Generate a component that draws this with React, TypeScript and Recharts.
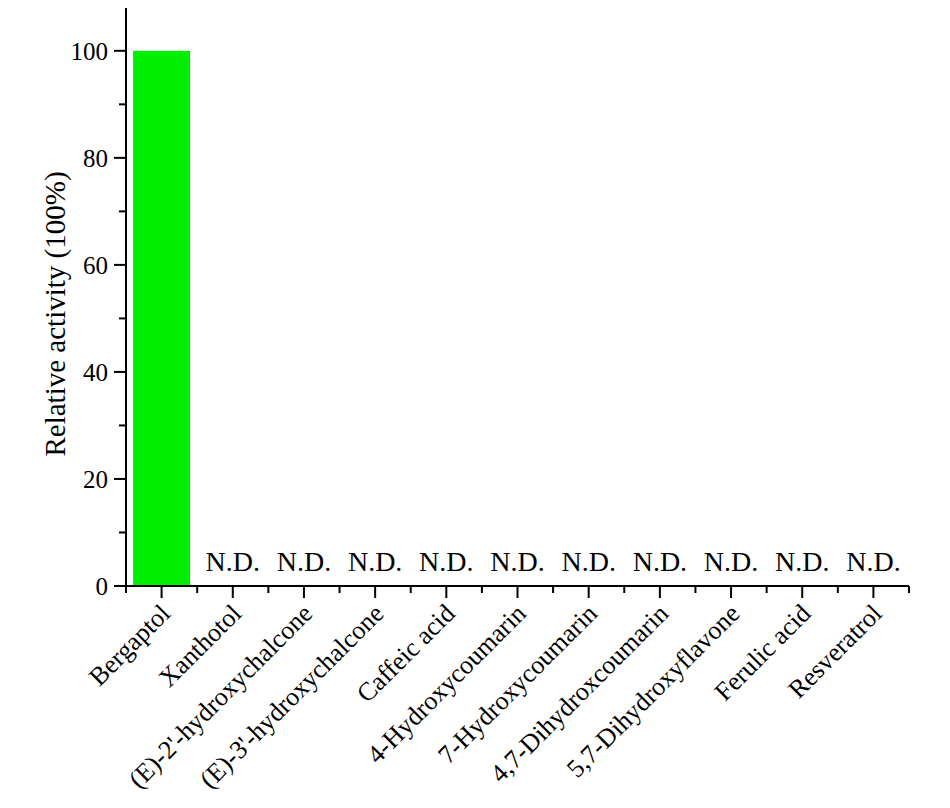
import { BarChart, Bar, XAxis, YAxis } from "recharts";

// Relative activity of each substrate; only Bergaptol is detected, the rest are N.D.

const compounds = [
  "Bergaptol",
  "Xanthotol",
  "(E)-2'-hydroxychalcone",
  "(E)-3'-hydroxychalcone",
  "Caffeic acid",
  "4-Hydroxycoumarin",
  "7-Hydroxycoumarin",
  "4,7-Dihydroxcoumarin",
  "5,7-Dihydroxyflavone",
  "Ferulic acid",
  "Resveratrol",
];

const activity = [100, 0, 0, 0, 0, 0, 0, 0, 0, 0, 0];

const yTicks = [0, 10, 20, 30, 40, 50, 60, 70, 80, 90, 100];
const yLabelTicks = [0, 20, 40, 60, 80, 100];

const data = compounds.map((name, i) => ({ name, value: activity[i] }));

const W = 950;
const H = 808;
const MARGIN = { top: 8, right: 41, bottom: 0, left: 0 };
const Y_AXIS_W = 126;
const X_AXIS_H = 222;
const BAND = (W - MARGIN.left - MARGIN.right - Y_AXIS_W) / compounds.length;

const FONT = '"Liberation Serif", "Times New Roman", serif';

function YTick({ x, y, payload }: any) {
  const major = yLabelTicks.includes(payload.value);
  return (
    <g>
      <line x1={x - (major ? 12 : 7)} x2={x} y1={y} y2={y} stroke="#000" strokeWidth={2} />
      {major && (
        <text
          x={x - 18}
          y={y}
          dy="0.35em"
          textAnchor="end"
          fontFamily={FONT}
          fontSize={25}
          fill="#000"
        >
          {payload.value}
        </text>
      )}
    </g>
  );
}

function XTick({ x, y, payload, index }: any) {
  const tx = x - 3;
  const ty = y + 16;
  return (
    <g>
      <line x1={x} x2={x} y1={y} y2={y + 12} stroke="#000" strokeWidth={2} />
      <line x1={x - BAND / 2} x2={x - BAND / 2} y1={y} y2={y + 7} stroke="#000" strokeWidth={2} />
      {index === compounds.length - 1 && (
        <line x1={x + BAND / 2} x2={x + BAND / 2} y1={y} y2={y + 7} stroke="#000" strokeWidth={2} />
      )}
      <text
        x={tx}
        y={ty}
        textAnchor="end"
        dominantBaseline="hanging"
        transform={`rotate(-45, ${tx}, ${ty})`}
        fontFamily={FONT}
        fontSize={26}
        fill="#000"
      >
        {payload.value}
      </text>
    </g>
  );
}

// bar plus an "N.D." note above the zero bars
function BarShape({ x, y, width, height, value, fill }: any) {
  const v = Array.isArray(value) ? value[1] - value[0] : value;
  return (
    <g>
      {height > 0 && <rect x={x} y={y} width={width} height={height} fill={fill} />}
      {v === 0 && (
        <text
          x={x + width / 2}
          y={y - 15}
          textAnchor="middle"
          fontFamily={FONT}
          fontSize={28}
          fill="#000"
        >
          N.D.
        </text>
      )}
    </g>
  );
}

function YTitle({ viewBox }: any) {
  const cx = viewBox.x + 55;
  const cy = viewBox.y + viewBox.height / 2 + 17;
  return (
    <text
      x={cx}
      y={cy}
      textAnchor="middle"
      dominantBaseline="central"
      transform={`rotate(-90, ${cx}, ${cy})`}
      fontFamily={FONT}
      fontSize={29}
      fill="#000"
    >
      Relative activity (100%)
    </text>
  );
}

export default function App() {
  return (
    <div style={{ position: "absolute", left: 0, top: 0, width: W, height: H, background: "#fff" }}>
      <BarChart width={W} height={H} data={data} margin={MARGIN} barCategoryGap="10%">
        <XAxis
          dataKey="name"
          interval={0}
          height={X_AXIS_H}
          tickSize={0}
          tickMargin={0}
          tickLine={false}
          axisLine={{ stroke: "#000", strokeWidth: 2 }}
          tick={<XTick />}
        />
        <YAxis
          type="number"
          domain={[0, 108]}
          ticks={yTicks}
          width={Y_AXIS_W}
          tickSize={0}
          tickMargin={0}
          tickLine={false}
          axisLine={{ stroke: "#000", strokeWidth: 2 }}
          tick={<YTick />}
          label={<YTitle />}
        />
        <Bar dataKey="value" fill="#00EE00" isAnimationActive={false} shape={<BarShape />} />
      </BarChart>
    </div>
  );
}
